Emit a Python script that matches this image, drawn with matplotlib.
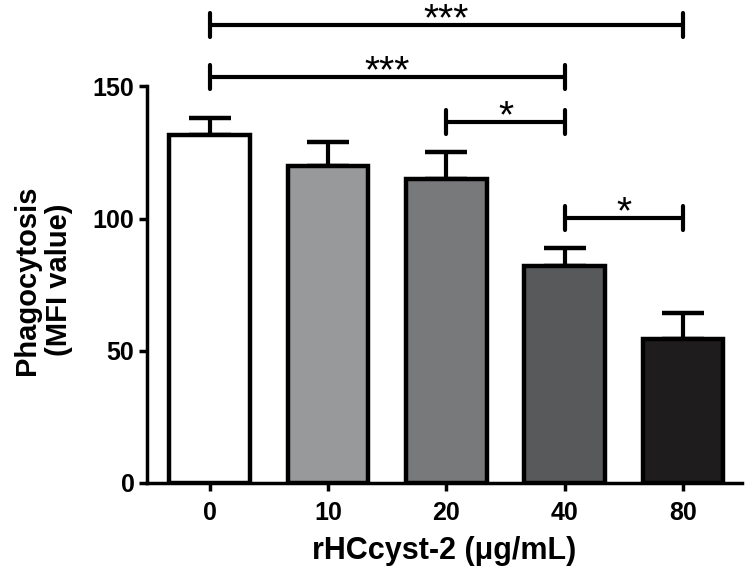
import numpy as np
import matplotlib
matplotlib.use("Agg")
from matplotlib import pyplot as plt

plt.rcParams['font.family'] = ['Liberation Sans', 'DejaVu Sans']
plt.rcParams['font.weight'] = 'bold'

doses = ['0', '10', '20', '40', '80']
means = [131.5, 119.8, 114.8, 82.0, 54.6]
errs = [6.4, 9.0, 10.2, 6.8, 9.6]
colors = ['#ffffff', '#98999b', '#78797b', '#58595b', '#1f1c1d']
# significance brackets: (left bar, right bar, height, label)
sig_pairs = [(0, 4, 173.3, '***'), (0, 3, 153.4, '***'), (2, 3, 136.4, '*'), (3, 4, 100.3, '*')]

fig = plt.figure(figsize=(7.52, 5.81), dpi=100)
ax = fig.add_axes([0.1955, 0.1687, 0.7915, 0.8193])

x = np.arange(len(doses))
ax.bar(x, means, width=0.68, color=colors, edgecolor='black', linewidth=3.2, zorder=2)
ax.errorbar(x, means, yerr=[np.zeros(len(errs)), errs], fmt='none', ecolor='black',
            elinewidth=3, capsize=15, capthick=3.2, zorder=1)

for a, b, h, lab in sig_pairs:
    ax.plot([x[a], x[b]], [h, h], color='black', lw=3, solid_capstyle='butt', clip_on=False)
    for xx in (x[a], x[b]):
        ax.plot([xx, xx], [h - 4.5, h + 4.5], color='black', lw=3, solid_capstyle='round', clip_on=False)
    ax.text((x[a] + x[b]) / 2, h - 2.0, lab, ha='center', va='baseline', fontsize=28,
            fontweight='normal', clip_on=False)

ax.set_xlim(-0.53, 4.5)
ax.set_ylim(0, 180)
ax.spines['top'].set_visible(False)
ax.spines['right'].set_visible(False)
ax.spines['left'].set_bounds(0, 150)
ax.spines['left'].set_linewidth(2.5)
ax.spines['bottom'].set_linewidth(2.5)
ax.set_yticks([0, 50, 100, 150])
ax.set_xticks(x)
ax.set_xticklabels(doses)
ax.tick_params(axis='both', direction='out', length=6, width=2.5, labelsize=18, pad=3)
ax.tick_params(axis='x', pad=7)
for lab in ax.get_xticklabels() + ax.get_yticklabels():
    lab.set_fontweight('bold')

ax.set_xlabel('rHCcyst-2 (μg/mL)', fontsize=22, fontweight='bold', labelpad=8)
ax.set_ylabel('Phagocytosis\n(MFI value)', fontsize=21, fontweight='bold', va='center')
ax.yaxis.set_label_coords(-0.175, 0.426)

fig.savefig('out.png', dpi=100)
